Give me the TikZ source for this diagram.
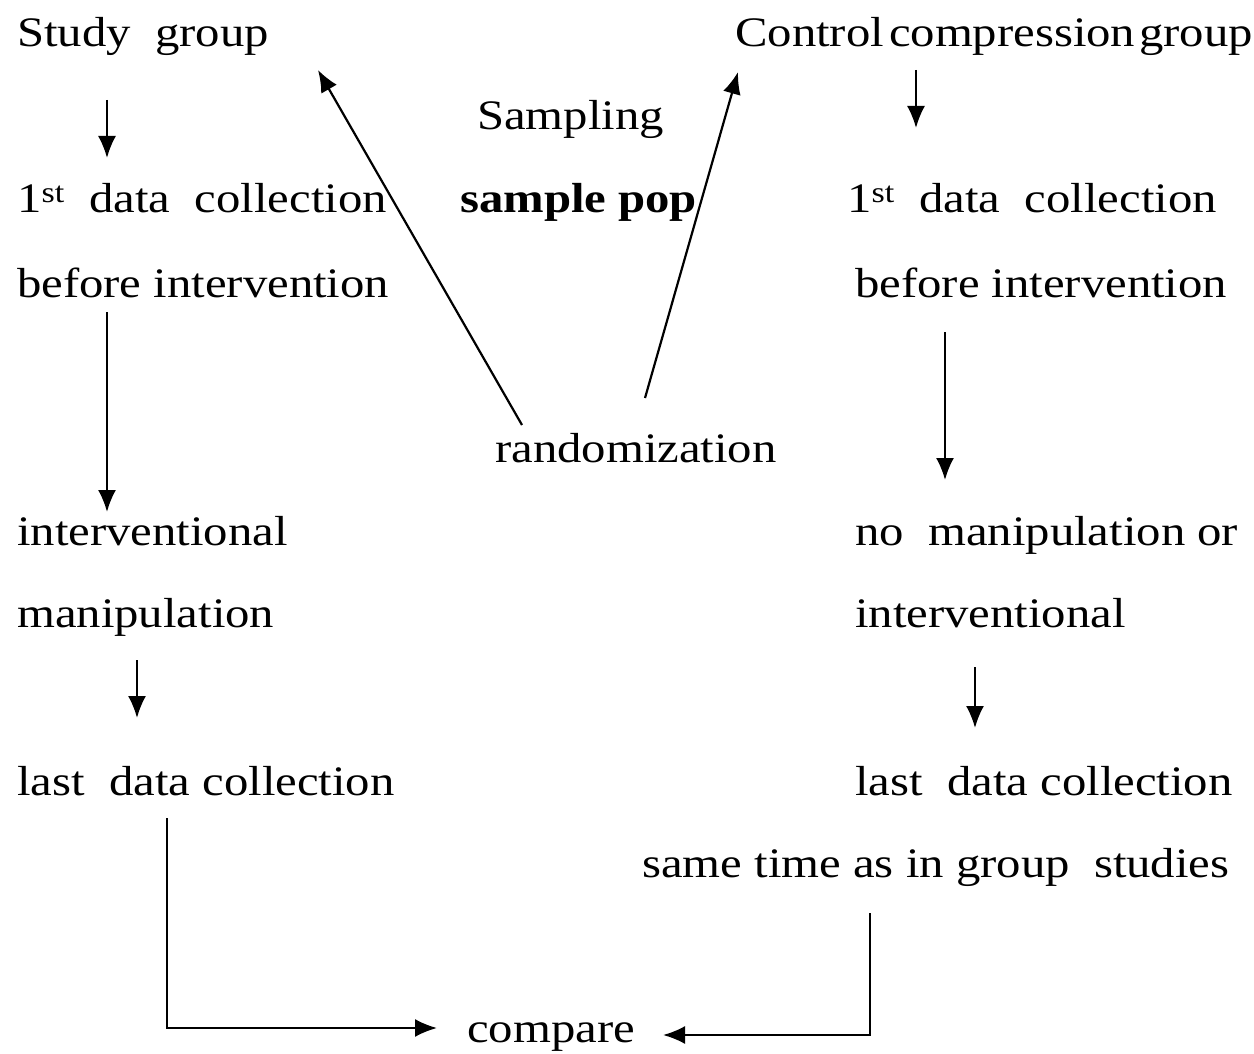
\documentclass[tikz,border=0pt]{standalone}
\usepackage{fontspec}
\setmainfont[FakeStretch=1.16]{Liberation Serif}
\usetikzlibrary{calc,arrows.meta}
\begin{document}
\begin{tikzpicture}[x=1pt,y=-1pt,
  lbl/.style={anchor=base west,inner sep=0pt,font=\fontsize{42}{48}\selectfont},
  arr/.style={line width=2.2pt,-{Latex[length=22pt,width=18pt]}}]
\useasboundingbox[fill=white] (0,0) rectangle (1254,1054);

% left branch: study group
\node[lbl] (study) at (17,47)  {Study\ \ group};
\node[lbl] (d1L)   at (17,212) {1\textsuperscript{st}\ \ data\ \ collection};
\node[lbl] (bL)    at (17,297) {before intervention};
\node[lbl] (intL)  at (17,545) {interventional};
\node[lbl] (manL)  at (17,627) {manipulation};
\node[lbl] (lastL) at (17,795) {last\ \ data collection};

% centre: sampling and randomization
\node[lbl] (samp) at (477,130) {Sampling};
\node[lbl,font=\fontsize{42}{48}\selectfont\bfseries] (spop) at (460,212) {sample pop};
\node[lbl] (rand) at (495,462)  {randomization};
\node[lbl] (comp) at (467,1042) {compare};

% right branch: control group
\node[lbl] (ctrl)  at (735,47)  {Control\hspace{5pt}compression\hspace{4pt}group};
\node[lbl] (d1R)   at (847,212) {1\textsuperscript{st}\ \ data\ \ collection};
\node[lbl] (bR)    at (855,297) {before intervention};
\node[lbl] (noR)   at (855,545) {no\ \ manipulation or};
\node[lbl] (intR)  at (855,627) {interventional};
\node[lbl] (lastR) at (855,795) {last\ \ data collection};
\node[lbl] (same)  at (642,877) {same time as in group\ \ studies};

% connectors
\draw[arr] ($(study.base west)+(90,53)$) -- ($(d1L.base west)+(90,-54)$);
\draw[arr] ($(bL.base west)+(90,15)$) -- ($(intL.base west)+(90,-33)$);
\draw[arr] ($(manL.base west)+(120,33)$) -- ($(lastL.base west)+(120,-77)$);
\draw[arr] ($(lastL.base west)+(150,23)$) |- ($(comp.base west)+(-30,-14)$);

\draw[arr] ($(rand.base west)+(27,-37)$) -- ($(study.base west)+(301,23)$);
\draw[arr] ($(rand.base west)+(150,-64)$) -- ($(ctrl.base west)+(3,25)$);

\draw[arr] ($(ctrl.base west)+(181,23)$) -- ($(d1R.base west)+(69,-84)$);
\draw[arr] ($(bR.base west)+(90,35)$) -- ($(noR.base west)+(90,-65)$);
\draw[arr] ($(intR.base west)+(120,40)$) -- ($(lastR.base west)+(120,-67)$);
\draw[arr] ($(same.base west)+(228,36)$) |- ($(comp.base west)+(196,-7)$);
\end{tikzpicture}
\end{document}
